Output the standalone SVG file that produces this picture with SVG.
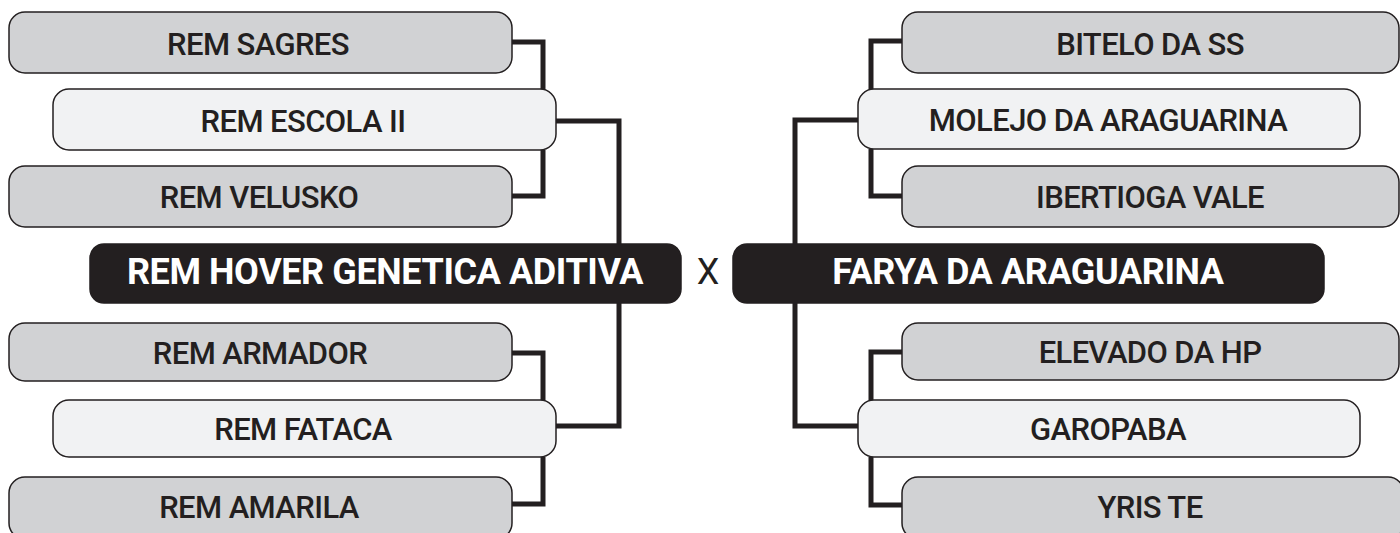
<svg xmlns="http://www.w3.org/2000/svg" width="1400" height="533" viewBox="0 0 1400 533">
<style>
.g{fill:#d1d2d4;stroke:#231f20;stroke-width:1.5}
.l{fill:#f1f2f3;stroke:#231f20;stroke-width:1.5}
.b{fill:#231f20;stroke:#231f20;stroke-width:1.5}
.t{font-family:Roboto,"Liberation Sans",sans-serif;font-weight:500;font-size:31px;letter-spacing:-0.6px;fill:#231f20;text-anchor:middle}
.w{font-family:Roboto,"Liberation Sans",sans-serif;font-weight:700;font-size:36px;letter-spacing:-0.4px;fill:#ffffff;text-anchor:middle}
.x{font-family:Roboto,"Liberation Sans",sans-serif;font-weight:400;font-size:36px;fill:#231f20;text-anchor:middle}
.c{fill:none;stroke:#231f20;stroke-width:5;stroke-linejoin:miter}
</style>
<rect width="1400" height="533" fill="#ffffff"/>
<g id="connectors">
<path class="c" d="M512,42 H543 V90 M543,150 V196 H512"/>
<path class="c" d="M556,121 H619 V245 M619,303 V426 H556"/>
<path class="c" d="M512,353 H543 V401 M543,457 V504 H512"/>
<path class="c" d="M902,41 H871 V90 M871,149 V196 H902"/>
<path class="c" d="M858,120 H795 V245 M795,303 V426 H858"/>
<path class="c" d="M902,352 H871 V401 M871,457 V505 H902"/>
</g>
<g id="rem-sagres"><rect class="g" x="9" y="12" width="503" height="61" rx="16"/><text class="t" x="258" y="55">REM SAGRES</text></g>
<g id="rem-escola-ii"><rect class="l" x="53" y="89" width="503" height="61" rx="16"/><text class="t" x="303" y="132">REM ESCOLA II</text></g>
<g id="rem-velusko"><rect class="g" x="9" y="166" width="503" height="61" rx="16"/><text class="t" x="259" y="208">REM VELUSKO</text></g>
<g id="rem-hover"><rect class="b" x="90" y="244" width="591" height="59" rx="14"/><text class="w" x="385" y="284">REM HOVER GENETICA ADITIVA</text></g>
<g id="versus"><text class="x" x="708" y="284">X</text></g>
<g id="farya"><rect class="b" x="733" y="244" width="591" height="59" rx="14"/><text class="w" x="1028" y="284">FARYA DA ARAGUARINA</text></g>
<g id="rem-armador"><rect class="g" x="9" y="323" width="503" height="58" rx="16"/><text class="t" x="260" y="364">REM ARMADOR</text></g>
<g id="rem-fataca"><rect class="l" x="53" y="400" width="503" height="57" rx="16"/><text class="t" x="303" y="440">REM FATACA</text></g>
<g id="rem-amarila"><rect class="g" x="9" y="477" width="503" height="62" rx="16"/><text class="t" x="259" y="518">REM AMARILA</text></g>
<g id="bitelo"><rect class="g" x="902" y="12" width="497" height="61" rx="16"/><text class="t" x="1150" y="55">BITELO DA SS</text></g>
<g id="molejo"><rect class="l" x="858" y="89" width="502" height="60" rx="16"/><text class="t" x="1108" y="131">MOLEJO DA ARAGUARINA</text></g>
<g id="ibertioga"><rect class="g" x="902" y="166" width="497" height="61" rx="16"/><text class="t" x="1150" y="208">IBERTIOGA VALE</text></g>
<g id="elevado"><rect class="g" x="902" y="323" width="497" height="57" rx="16"/><text class="t" x="1150" y="363">ELEVADO DA HP</text></g>
<g id="garopaba"><rect class="l" x="858" y="400" width="502" height="57" rx="16"/><text class="t" x="1108" y="440">GAROPABA</text></g>
<g id="yris-te"><rect class="g" x="902" y="477" width="502" height="62" rx="16"/><text class="t" x="1150" y="518">YRIS TE</text></g>
</svg>
